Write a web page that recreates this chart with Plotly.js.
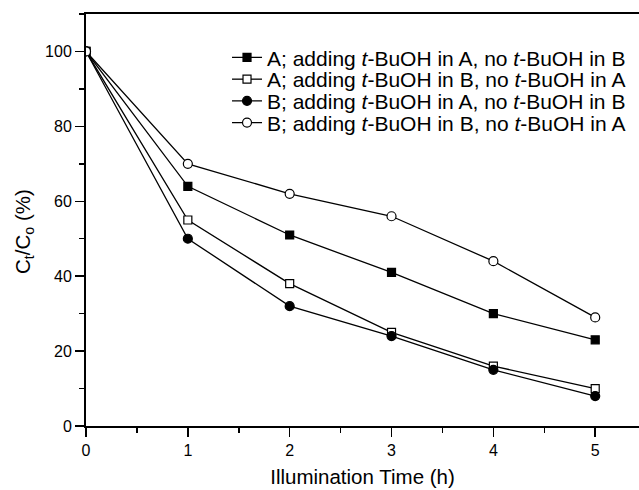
<!DOCTYPE html>
<html>
<head>
<meta charset="utf-8">
<script src="https://cdn.plot.ly/plotly-3.0.1.min.js"></script>
<style>html,body{margin:0;padding:0;background:#fff;}#chart{width:639px;height:490px;}</style>
</head>
<body>
<div id="chart"></div>
<script>
var timeH = [0, 1, 2, 3, 4, 5];
var seriesNames = [
  "A; adding <i>t</i>-BuOH in A, no <i>t</i>-BuOH in B",
  "A; adding <i>t</i>-BuOH in B, no <i>t</i>-BuOH in A",
  "B; adding <i>t</i>-BuOH in A, no <i>t</i>-BuOH in B",
  "B; adding <i>t</i>-BuOH in B, no <i>t</i>-BuOH in A"
];
var aAddA = [100, 64, 51, 41, 30, 23];
var aAddB = [100, 55, 38, 25, 16, 10];
var bAddA = [100, 50, 32, 24, 15, 8];
var bAddB = [100, 70, 62, 56, 44, 29];
var xTickVals = [0, 1, 2, 3, 4, 5];
var yTickVals = [0, 20, 40, 60, 80, 100];

var symbols = ["square", "square-open", "circle", "circle-open"];
var sizes = [8, 8, 9, 9];
var values = [aAddA, aAddB, bAddA, bAddB];
var legendIds = ["legend", "legend2", "legend3", "legend4"];

var traces = values.map(function (v, i) {
  var open = symbols[i].indexOf("open") >= 0;
  return {
    x: timeH, y: v, name: seriesNames[i], type: "scatter", mode: "lines+markers",
    legend: legendIds[i],
    line: {color: "#000", width: 1.3},
    marker: {symbol: open ? symbols[i].replace("-open", "") : symbols[i], size: sizes[i],
             color: open ? "#fff" : "#000", line: {color: "#000", width: 1.2}}
  };
});

var font = "Arial, 'Liberation Sans', Helvetica, sans-serif";
var rowY = [0.8937, 0.8410, 0.7883, 0.7357];
function mkLegend(y) {
  return {x: 0.255, xanchor: "left", y: y, yanchor: "middle", bgcolor: "rgba(0,0,0,0)",
          borderwidth: 0, font: {size: 21, family: font, color: "#000"}};
}
var layout = {
  width: 639, height: 490,
  margin: {l: 86, r: 0, t: 14, b: 64},
  paper_bgcolor: "#fff", plot_bgcolor: "#fff",
  font: {family: font, color: "#000", size: 16},
  showlegend: true,
  legend: mkLegend(rowY[0]),
  legend2: mkLegend(rowY[1]),
  legend3: mkLegend(rowY[2]),
  legend4: mkLegend(rowY[3]),
  xaxis: {
    range: [0, 5.43], tickvals: xTickVals, ticktext: xTickVals.map(String),
    showline: true, linecolor: "#000", linewidth: 2, mirror: true,
    ticks: "outside", ticklen: 9, tickwidth: 1.5, tickcolor: "#000",
    minor: {dtick: 0.5, ticks: "outside", ticklen: 5, tickwidth: 1.5, tickcolor: "#000"},
    showgrid: false, zeroline: false,
    tickfont: {size: 16},
    title: {text: "Illumination Time (h)", font: {size: 20.5}, standoff: 11}
  },
  yaxis: {
    range: [0, 110], tickvals: yTickVals, ticktext: yTickVals.map(String),
    showline: true, linecolor: "#000", linewidth: 2, mirror: false,
    ticks: "outside", ticklen: 9, tickwidth: 1.5, tickcolor: "#000",
    minor: {dtick: 10, ticks: "outside", ticklen: 5, tickwidth: 1.5, tickcolor: "#000"},
    showgrid: false, zeroline: false,
    tickfont: {size: 16}
  },
  annotations: [{
    text: "C<sub>t</sub>/C<sub>o</sub> (%)", textangle: -90, showarrow: false,
    xref: "paper", yref: "paper", x: -0.112, y: 0.471, xanchor: "center", yanchor: "middle",
    font: {size: 20.5, family: font, color: "#000"}
  }]
};

Plotly.newPlot("chart", traces, layout, {displayModeBar: false, staticPlot: true});
</script>
</body>
</html>
